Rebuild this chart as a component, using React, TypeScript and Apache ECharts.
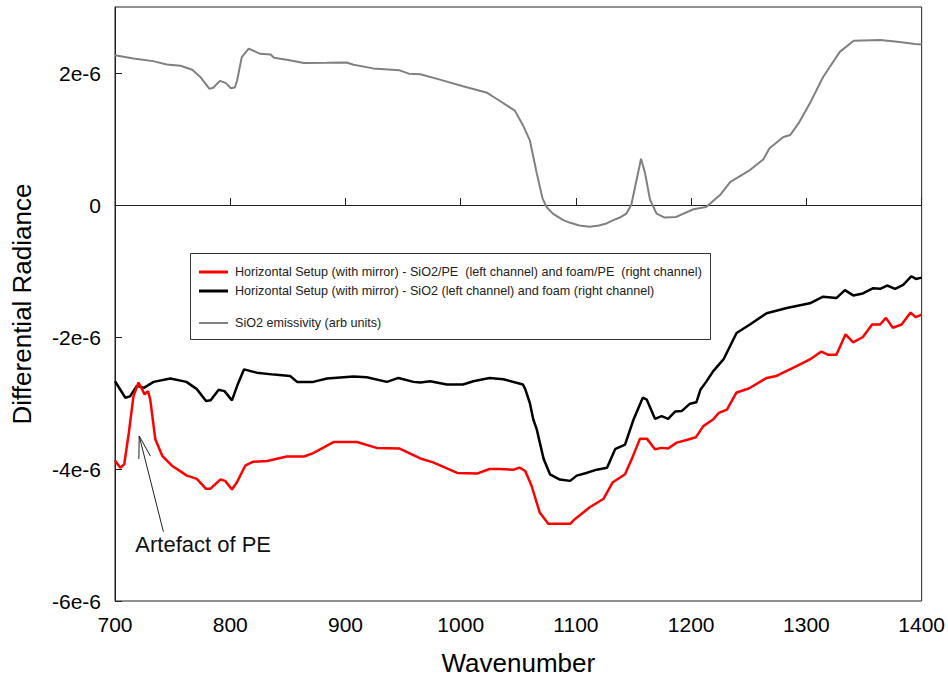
import React, { useEffect, useRef } from "react";
import * as echarts from "echarts";

// Wavenumber (x) and differential radiance in units of 1e-6 (y)
const grayX = [700, 716, 733, 745, 757, 767, 774, 782, 785.5, 791, 796, 800.6, 804, 806, 810, 816, 826, 835, 838, 849, 864, 884, 901, 907, 924, 947, 955, 965, 982, 1002, 1023, 1031, 1047, 1054, 1060, 1066, 1071, 1074.5, 1080, 1089, 1095, 1103, 1112, 1120, 1126.5, 1131, 1138, 1143.8, 1148, 1152, 1156.5, 1160, 1164.3, 1170, 1177, 1187, 1202, 1213, 1225, 1234, 1251, 1262.5, 1268, 1280, 1286, 1294, 1303, 1314.5, 1329, 1341, 1364, 1381, 1394, 1400];
const grayY = [2.27, 2.22, 2.18, 2.13, 2.11, 2.05, 1.94, 1.76, 1.78, 1.88, 1.85, 1.77, 1.78, 1.89, 2.24, 2.37, 2.29, 2.28, 2.23, 2.2, 2.15, 2.155, 2.16, 2.125, 2.07, 2.04, 1.99, 1.98, 1.9, 1.8, 1.7, 1.61, 1.43, 1.21, 0.98, 0.48, 0.1, -0.03, -0.13, -0.23, -0.27, -0.31, -0.33, -0.31, -0.28, -0.24, -0.19, -0.13, 0.0, 0.33, 0.7, 0.48, 0.08, -0.13, -0.19, -0.18, -0.065, -0.03, 0.15, 0.35, 0.53, 0.69, 0.86, 1.03, 1.06, 1.26, 1.54, 1.94, 2.32, 2.49, 2.5, 2.47, 2.44, 2.43];

const blackX = [700, 709, 713, 719, 725, 733.5, 748, 762, 771, 779, 783, 790, 795, 801.5, 806, 812, 823, 838, 852, 858, 872, 884, 907, 918.5, 936, 946, 959, 965, 973.5, 988, 1002, 1011, 1025, 1037, 1050, 1054, 1056, 1060, 1063, 1066, 1072, 1077.5, 1086, 1095, 1100.7, 1109, 1118, 1127, 1134, 1142.6, 1150, 1158, 1161.5, 1168.6, 1174.4, 1180, 1186, 1192, 1199, 1204.5, 1208, 1213, 1219, 1228, 1239.4, 1251, 1265.5, 1283, 1303, 1314.5, 1326, 1333.4, 1340.6, 1349, 1358, 1364, 1370, 1377, 1384, 1391, 1395, 1400];
const blackY = [-2.67, -2.92, -2.9, -2.74, -2.77, -2.68, -2.63, -2.68, -2.79, -2.97, -2.96, -2.8, -2.82, -2.96, -2.74, -2.49, -2.54, -2.57, -2.59, -2.68, -2.68, -2.63, -2.6, -2.61, -2.68, -2.62, -2.68, -2.69, -2.67, -2.72, -2.72, -2.67, -2.62, -2.64, -2.7, -2.72, -2.79, -3.0, -3.25, -3.4, -3.85, -4.08, -4.16, -4.18, -4.1, -4.06, -4.01, -3.98, -3.7, -3.63, -3.25, -2.92, -2.95, -3.24, -3.2, -3.24, -3.13, -3.12, -3.01, -2.99, -2.8, -2.68, -2.52, -2.34, -1.94, -1.81, -1.64, -1.56, -1.49, -1.39, -1.41, -1.29, -1.37, -1.34, -1.26, -1.27, -1.22, -1.27, -1.21, -1.08, -1.12, -1.1];

const redX = [700, 704.6, 708, 712, 716, 720.4, 723.4, 725.7, 728.6, 730.6, 735, 741, 749.4, 762.4, 771, 779, 782.7, 791.3, 795.6, 801.5, 805.8, 813, 820, 832, 849, 864, 872, 890, 910, 927, 947, 965, 976, 997, 1014, 1025, 1034, 1046, 1051, 1056, 1061.4, 1068.6, 1076, 1095, 1099, 1112, 1124, 1132, 1142.6, 1148.4, 1155.6, 1161.5, 1168.6, 1174.4, 1180, 1187.4, 1196, 1204, 1210.5, 1219, 1224, 1231, 1239.4, 1250, 1265.5, 1274, 1291.5, 1303, 1313, 1319, 1326, 1334, 1340.6, 1349, 1357, 1364, 1369, 1375, 1382.6, 1390.4, 1395, 1400];
const redY = [-3.87, -3.98, -3.93, -3.45, -2.9, -2.69, -2.79, -2.87, -2.82, -2.95, -3.55, -3.8, -3.95, -4.1, -4.15, -4.3, -4.3, -4.16, -4.18, -4.31, -4.2, -3.95, -3.89, -3.88, -3.81, -3.81, -3.76, -3.59, -3.59, -3.68, -3.69, -3.84, -3.9, -4.06, -4.07, -4.0, -4.0, -4.01, -3.98, -4.03, -4.25, -4.66, -4.83, -4.83, -4.76, -4.58, -4.45, -4.2, -4.08, -3.85, -3.54, -3.54, -3.7, -3.68, -3.69, -3.6, -3.56, -3.52, -3.35, -3.25, -3.15, -3.1, -2.84, -2.78, -2.62, -2.59, -2.44, -2.34, -2.22, -2.27, -2.27, -1.96, -2.08, -2.0, -1.81, -1.81, -1.71, -1.86, -1.81, -1.63, -1.7, -1.66];

const seriesNames = [
  "Horizontal Setup (with mirror) - SiO2/PE  (left channel) and foam/PE  (right channel)",
  "Horizontal Setup (with mirror) - SiO2 (left channel) and foam (right channel)",
  "SiO2 emissivity (arb units)",
];

const xTicks = [700, 800, 900, 1000, 1100, 1200, 1300, 1400];
const yTicks = [-6, -4, -2, 0, 2];

// annotation: arrow tip, arrow tail and label anchor, in data units
const annotationText = "Artefact of PE";
const arrowTip = [721, -3.5];
const arrowTail = [742, -4.95];
const labelAnchor = [717.6, -5.14];

const FONT = "'Liberation Sans', Arial, sans-serif";

const zip = (xs: number[], ys: number[]) => xs.map((x, i) => [x, ys[i]]);

export default function App() {
  const ref = useRef<HTMLDivElement>(null);
  useEffect(() => {
    if (!ref.current) return;
    const chart = echarts.init(ref.current, undefined, { renderer: "svg" });
    const legendBox = {
      type: "rect",
      id: "legendBox",
      shape: { x: 190.5, y: 253.5, width: 520, height: 86 },
      style: { fill: "#fff", stroke: "#333", lineWidth: 1 },
      z: 3,
    };
    const legendText = { fontSize: 12.6, lineHeight: 14, color: "#222", fontFamily: FONT, padding: [0, 0, 0, 2] };
    chart.setOption({
      animation: false,
      backgroundColor: "#fff",
      grid: {
        left: 115,
        right: 26,
        top: 7,
        bottom: 78,
        show: true,
        borderColor: "#222",
        borderWidth: 1,
        backgroundColor: "transparent",
      },
      xAxis: {
        type: "value",
        min: 700,
        max: 1400,
        interval: 100,
        name: "Wavenumber",
        nameLocation: "middle",
        nameGap: 49,
        nameTextStyle: { fontSize: 26, color: "#000", fontFamily: FONT },
        axisLine: { lineStyle: { color: "#222", width: 1 } },
        axisTick: { inside: true, length: 7, lineStyle: { color: "#222" } },
        axisLabel: {
          fontSize: 21,
          color: "#000",
          fontFamily: FONT,
          margin: 13,
          formatter: (v: number) => (xTicks.includes(Math.round(v)) ? String(Math.round(v)) : ""),
        },
        splitLine: { show: false },
      },
      yAxis: {
        type: "value",
        min: -6,
        max: 3,
        interval: 2,
        name: "Differential Radiance",
        nameLocation: "middle",
        nameGap: 80,
        nameTextStyle: { fontSize: 26, color: "#000", fontFamily: FONT },
        axisLine: { show: true, lineStyle: { color: "#222", width: 1 } },
        axisTick: { inside: true, length: 7, lineStyle: { color: "#222" } },
        axisLabel: {
          fontSize: 21,
          color: "#000",
          fontFamily: FONT,
          margin: 14,
          showMaxLabel: false,
          formatter: (v: number) => {
            const r = Math.round(v);
            if (!yTicks.includes(r) || Math.abs(v - r) > 1e-6) return "";
            return r === 0 ? "0" : r + "e-6";
          },
        },
        splitLine: { show: false },
      },
      legend: [
        {
          data: [seriesNames[0], seriesNames[1]],
          orient: "vertical",
          left: 199,
          top: 265,
          padding: 0,
          itemGap: 5,
          itemWidth: 29,
          itemHeight: 3,
          icon: "rect",
          selectedMode: false,
          z: 5,
          textStyle: legendText,
        },
        {
          data: [seriesNames[2]],
          orient: "vertical",
          left: 199,
          top: 316,
          padding: 0,
          itemWidth: 29,
          itemHeight: 2,
          icon: "rect",
          selectedMode: false,
          z: 5,
          textStyle: legendText,
        },
      ],
      graphic: [legendBox],
      series: [
        {
          name: seriesNames[2],
          type: "line",
          data: zip(grayX, grayY),
          showSymbol: false,
          symbol: "none",
          color: "#808080",
          lineStyle: { color: "#808080", width: 2 },
          z: 2,
        },
        {
          name: seriesNames[1],
          type: "line",
          data: zip(blackX, blackY),
          showSymbol: false,
          symbol: "none",
          color: "#000",
          lineStyle: { color: "#000", width: 2.5 },
          z: 2,
        },
        {
          name: seriesNames[0],
          type: "line",
          data: zip(redX, redY),
          showSymbol: false,
          symbol: "none",
          color: "#ff0000",
          lineStyle: { color: "#ff0000", width: 2.5 },
          z: 2,
        },
      ],
    });

    const tip = chart.convertToPixel({ gridIndex: 0 }, arrowTip) as number[];
    const tail = chart.convertToPixel({ gridIndex: 0 }, arrowTail) as number[];
    const lab = chart.convertToPixel({ gridIndex: 0 }, labelAnchor) as number[];
    const dx = tail[0] - tip[0];
    const dy = tail[1] - tip[1];
    const len = Math.hypot(dx, dy);
    const ux = dx / len;
    const uy = dy / len;
    const headLen = 23;
    const ang = (15 * Math.PI) / 180;
    const rot = (a: number) => [
      tip[0] + headLen * (ux * Math.cos(a) - uy * Math.sin(a)),
      tip[1] + headLen * (ux * Math.sin(a) + uy * Math.cos(a)),
    ];
    const h1 = rot(ang);
    const h2 = rot(-ang);
    chart.setOption({
      graphic: [
        legendBox,
        {
          type: "line",
          id: "arrowShaft",
          shape: { x1: tail[0], y1: tail[1], x2: tip[0], y2: tip[1] },
          style: { stroke: "#222", lineWidth: 1 },
          z: 6,
        },
        {
          type: "polyline",
          id: "arrowHead",
          shape: { points: [h1, tip, h2] },
          style: { stroke: "#222", lineWidth: 1, fill: null },
          z: 6,
        },
        {
          type: "text",
          id: "annot",
          x: lab[0],
          y: lab[1],
          style: {
            text: annotationText,
            fontSize: 22,
            fontFamily: FONT,
            fill: "#111",
            align: "left",
            verticalAlign: "middle",
          },
          z: 6,
        },
      ],
    });
    return () => chart.dispose();
  }, []);
  return (
    <div
      ref={ref}
      style={{ position: "fixed", left: 0, top: 0, width: 948, height: 681, background: "#fff" }}
    />
  );
}
